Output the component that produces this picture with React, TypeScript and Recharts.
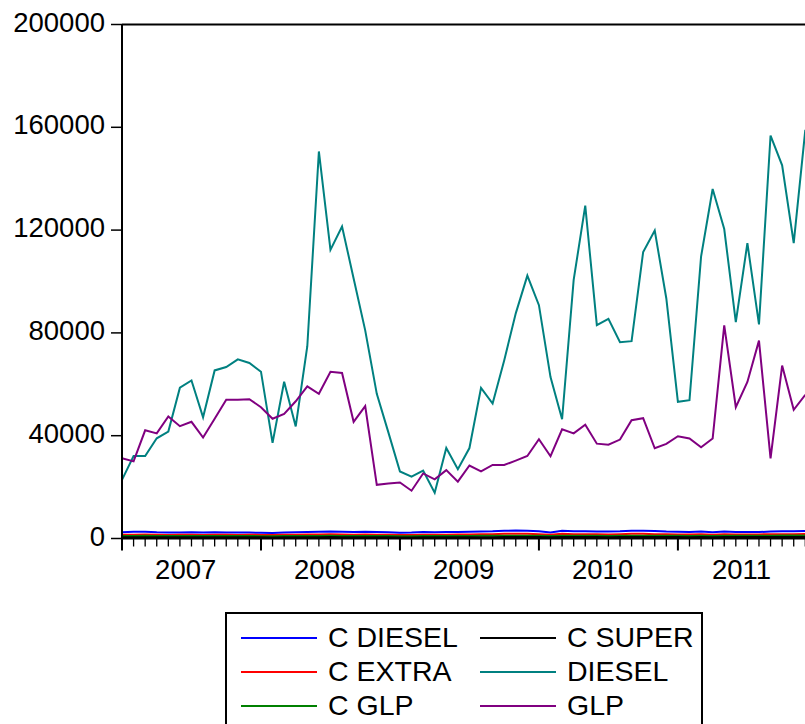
import React from 'react';
import { LineChart, Line, XAxis, YAxis, ReferenceLine, Legend } from 'recharts';

// monthly, 2007M01 .. 2011M12
const years = ['2007', '2008', '2009', '2010', '2011'];
const yTicks = [0, 40000, 80000, 120000, 160000, 200000];

const diesel = [
  22800, 32100, 32100, 39000, 41600, 58700, 61500, 47200, 65400, 66700, 69700, 68300,
  64900, 37200, 61000, 43600, 74800, 150600, 112300, 121400, 101200, 81000, 56300, 41300,
  26100, 24100, 26400, 17800, 35200, 27000, 35200, 58600, 52500, 69300, 87600, 102300,
  90800, 62800, 46400, 100600, 129500, 83000, 85500, 76400, 76800, 111500, 119800, 93400,
  53200, 53800, 109700, 136000, 120400, 84200, 114900, 83300, 156800, 145200, 114900, 159000,
];
const glp = [
  31200, 30000, 42100, 40900, 47500, 43700, 45400, 39300, 46600, 54000, 54000, 54200,
  51100, 46600, 48500, 53400, 59200, 56300, 64900, 64400, 45400, 51500, 20900, 21400,
  21800, 18600, 25300, 23000, 26600, 22100, 28400, 26100, 28600, 28600, 30300, 32100,
  38600, 32000, 42500, 40900, 44300, 36900, 36500, 38500, 46000, 46800, 35100, 36800,
  39800, 38900, 35500, 38900, 82900, 51100, 60900, 77000, 31200, 67300, 50100, 55900,
];
const cDiesel = [
  2400, 2600, 2600, 2400, 2300, 2300, 2400, 2300, 2400, 2300, 2300, 2300,
  2200, 2100, 2300, 2400, 2500, 2600, 2700, 2600, 2500, 2600, 2500, 2400,
  2200, 2300, 2500, 2400, 2500, 2500, 2600, 2700, 2800, 3000, 3100, 3000,
  2800, 2300, 3000, 2800, 2800, 2700, 2700, 2800, 3000, 3000, 2900, 2700,
  2600, 2500, 2700, 2400, 2700, 2500, 2500, 2500, 2700, 2800, 2800, 2900,
];
const cExtra = [
  1500, 1500, 1600, 1500, 1400, 1500, 1500, 1400, 1500, 1500, 1400, 1500,
  1400, 1400, 1500, 1500, 1600, 1600, 1700, 1600, 1500, 1600, 1500, 1500,
  1400, 1400, 1500, 1500, 1500, 1600, 1600, 1700, 1700, 1800, 1800, 1800,
  1700, 1500, 1800, 1700, 1700, 1700, 1600, 1700, 1800, 1800, 1700, 1700,
  1600, 1600, 1700, 1500, 1700, 1600, 1600, 1600, 1700, 1700, 1700, 1800,
];
const cGlp = [
  1000, 1000, 1100, 1000, 1000, 1000, 1000, 1000, 1000, 1000, 1000, 1000,
  900, 900, 1000, 1000, 1000, 1000, 1100, 1000, 1000, 1000, 1000, 1000,
  900, 900, 1000, 1000, 1000, 1000, 1000, 1100, 1100, 1100, 1100, 1100,
  1100, 1000, 1100, 1100, 1100, 1100, 1000, 1100, 1100, 1100, 1100, 1100,
  1100, 1000, 1100, 1000, 1100, 1100, 1100, 1100, 1100, 1200, 1200, 1200,
];
const cSuper = [
  500, 500, 500, 500, 500, 500, 500, 500, 500, 500, 500, 500,
  500, 400, 500, 500, 500, 500, 600, 500, 500, 500, 500, 500,
  400, 400, 500, 500, 500, 500, 500, 500, 500, 600, 600, 600,
  600, 500, 600, 600, 600, 600, 500, 600, 600, 600, 600, 600,
  600, 500, 600, 500, 600, 600, 600, 600, 600, 600, 600, 600,
];

const series = [
  { key: 'cDiesel', name: 'C DIESEL', color: '#0000ff', values: cDiesel },
  { key: 'cExtra', name: 'C EXTRA', color: '#ff0000', values: cExtra },
  { key: 'cGlp', name: 'C GLP', color: '#008000', values: cGlp },
  { key: 'cSuper', name: 'C SUPER', color: '#000000', values: cSuper },
  { key: 'diesel', name: 'DIESEL', color: '#008080', values: diesel },
  { key: 'glp', name: 'GLP', color: '#800080', values: glp },
];

const data = diesel.map((_, i) => {
  const row: Record<string, number> = { idx: i };
  series.forEach(s => { row[s.key] = s.values[i]; });
  return row;
});

// month ticks plus one label position in the middle of each year
const xTicks = [
  ...data.map(d => d.idx),
  ...years.map((_, i) => i * 12 + 5.5),
];

const FONT = '"Liberation Sans", Arial, sans-serif';
const W = 830;
const H = 724;
const PLOT_LEFT = 122;
const PLOT_TOP = 24.5;
const PLOT_BOTTOM = 538.5;
const PLOT_RIGHT = 805.3;
const X_AXIS_H = 60;

const XTick = (props: any) => {
  const { x, payload } = props;
  const v = payload.value;
  if (Number.isInteger(v)) {
    const major = v % 12 === 0;
    return (
      <line x1={x} x2={x} y1={PLOT_BOTTOM} y2={PLOT_BOTTOM + (major ? 12 : 8)}
        stroke="#000" strokeWidth={major ? 2 : 1.3} />
    );
  }
  return (
    <text x={x} y={579} textAnchor="middle" fontSize={27.5} fontFamily={FONT} fill="#000">
      {years[Math.floor(v / 12)]}
    </text>
  );
};

const YTick = (props: any) => {
  const { y, payload } = props;
  return (
    <g>
      <line x1={111} x2={PLOT_LEFT} y1={y} y2={y} stroke="#000" strokeWidth={1.5} />
      <text x={105} y={y + 7} textAnchor="end" fontSize={27.5} fontFamily={FONT} fill="#000">
        {payload.value}
      </text>
    </g>
  );
};

const LegendBox = () => {
  // EViews lays legend out column-wise, three rows
  const cols = [14, 253];
  const rows = [24, 58, 92];
  return (
    <div style={{ width: 474, height: 130, border: '2px solid #000', background: '#fff', position: 'relative' }}>
      <svg width={474} height={130} style={{ position: 'absolute', left: 0, top: 0 }}>
        {series.map((s, i) => {
          const cx = cols[Math.floor(i / 3)];
          const cy = rows[i % 3];
          return (
            <g key={s.key}>
              <line x1={cx} x2={cx + 76} y1={cy} y2={cy} stroke={s.color} strokeWidth={2} />
              <text x={cx + 87} y={cy + 9} fontSize={28.5} fontFamily={FONT} fill="#000">{s.name}</text>
            </g>
          );
        })}
      </svg>
    </div>
  );
};

export default function App() {
  return (
    <div style={{ position: 'fixed', left: 0, top: 0, width: 805, height: 724, overflow: 'hidden', background: '#fff' }}>
      <LineChart
        width={W}
        height={H}
        data={data}
        margin={{ top: PLOT_TOP, right: W - PLOT_RIGHT, left: 0, bottom: H - PLOT_BOTTOM - X_AXIS_H }}
      >
        <XAxis
          dataKey="idx"
          type="number"
          domain={[0, 59]}
          ticks={xTicks}
          interval={0}
          tick={<XTick />}
          tickLine={false}
          axisLine={{ stroke: '#000', strokeWidth: 2 }}
          height={X_AXIS_H}
        />
        <YAxis
          type="number"
          domain={[0, 200000]}
          ticks={yTicks}
          interval={0}
          width={PLOT_LEFT}
          tick={<YTick />}
          tickLine={false}
          axisLine={{ stroke: '#000', strokeWidth: 2 }}
        />
        <ReferenceLine y={200000} stroke="#000" strokeWidth={2} />
        {series.map(s => (
          <Line
            key={s.key}
            type="linear"
            dataKey={s.key}
            name={s.name}
            stroke={s.color}
            strokeWidth={2}
            dot={false}
            isAnimationActive={false}
          />
        ))}
        <Legend
          layout="horizontal"
          verticalAlign="middle"
          align="center"
          wrapperStyle={{ left: 225, top: 612, width: 478, height: 134 }}
          content={() => <LegendBox />}
        />
      </LineChart>
    </div>
  );
}
